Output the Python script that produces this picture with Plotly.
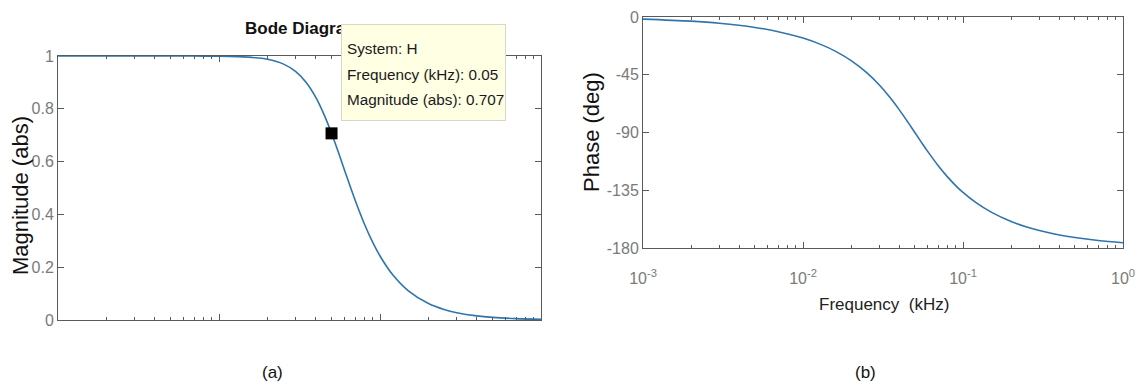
import plotly.graph_objects as go

# ---- data (2nd-order low-pass, corner 0.05 kHz) ----
freq_khz = [0.001, 0.002, 0.003, 0.005, 0.007, 0.01, 0.013, 0.016, 0.02, 0.025,
            0.03, 0.035, 0.04, 0.045, 0.05, 0.055, 0.06, 0.07, 0.08, 0.09,
            0.1, 0.12, 0.15, 0.2, 0.25, 0.3, 0.4, 0.5, 0.7, 1.0]
magnitude_abs = [1.0, 1.0, 1.0, 0.99995, 0.9998, 0.9992, 0.99773, 0.9948, 0.98744, 0.97014,
                 0.94089, 0.89799, 0.84227, 0.77706, 0.70711, 0.63705, 0.5704, 0.45447, 0.36385, 0.29491,
                 0.24254, 0.17105, 0.11043, 0.06238, 0.03997, 0.02777, 0.01562, 0.01, 0.0051, 0.0025]
phase_deg = [-1.62, -3.24, -4.87, -8.13, -11.42, -16.42, -21.52, -26.76, -33.96, -43.31,
             -52.97, -62.74, -72.35, -81.51, -90.0, -97.69, -104.53, -115.87, -124.59, -131.35,
             -136.69, -144.51, -152.06, -159.34, -163.58, -166.37, -169.82, -171.87, -174.2, -175.95]

datatip_freq = [0.05]
datatip_mag = [0.707]

mag_tick_vals = [0, 0.2, 0.4, 0.6, 0.8, 1]
mag_tick_text = ["0", "0.2", "0.4", "0.6", "0.8", "1"]
phase_tick_vals = [-180, -135, -90, -45, 0]
phase_tick_text = ["-180", "-135", "-90", "-45", "0"]
freq_tick_vals = [0.001, 0.01, 0.1, 1]
freq_tick_text = ["10<sup>-3</sup>", "10<sup>-2</sup>", "10<sup>-1</sup>", "10<sup>0</sup>"]
freq_minor_vals = [0.002, 0.003, 0.004, 0.005, 0.006, 0.007, 0.008, 0.009,
                   0.02, 0.03, 0.04, 0.05, 0.06, 0.07, 0.08, 0.09,
                   0.2, 0.3, 0.4, 0.5, 0.6, 0.7, 0.8, 0.9]

W, H = 1145, 391
def px_x(x):
    return x / W
def px_y(y):
    return 1 - y / H

LINE_COLOR = "#2e75ad"
AXIS_COLOR = "#5a5a5a"
FONT = "Liberation Sans, Arial, sans-serif"
TICK_FONT = dict(family=FONT, size=16, color="#7a7a7a")

fig = go.Figure()
fig.add_trace(go.Scatter(x=freq_khz, y=magnitude_abs, mode="lines",
                         line=dict(color=LINE_COLOR, width=1.6, shape="spline"),
                         xaxis="x", yaxis="y", showlegend=False))
fig.add_trace(go.Scatter(x=datatip_freq, y=datatip_mag, mode="markers",
                         marker=dict(symbol="square", size=12, color="black"),
                         xaxis="x", yaxis="y", showlegend=False, cliponaxis=False))
fig.add_trace(go.Scatter(x=freq_khz, y=phase_deg, mode="lines",
                         line=dict(color=LINE_COLOR, width=1.6, shape="spline"),
                         xaxis="x2", yaxis="y2", showlegend=False))

common_x = dict(type="log", range=[-3, 0], showgrid=False, zeroline=False, automargin=False,
                showline=True, linecolor=AXIS_COLOR, linewidth=1, mirror="ticks",
                ticks="inside", ticklen=6, tickcolor=AXIS_COLOR,
                tickmode="array", tickvals=freq_tick_vals, ticktext=freq_tick_text,
                minor=dict(ticks="inside", ticklen=3, tickcolor=AXIS_COLOR, showgrid=False,
                           tickmode="array", tickvals=freq_minor_vals),
                tickfont=TICK_FONT)
common_y = dict(showgrid=False, zeroline=False, showline=True, linecolor=AXIS_COLOR, automargin=False,
                linewidth=1, mirror="ticks", ticks="inside", ticklen=6, tickcolor=AXIS_COLOR,
                tickfont=TICK_FONT, tickmode="array")

fig.update_layout(
    width=W, height=H, showlegend=False,
    margin=dict(l=0, r=0, t=0, b=0, pad=0, autoexpand=False),
    paper_bgcolor="white", plot_bgcolor="white",
    xaxis=dict(**common_x, domain=[px_x(58), px_x(541)], anchor="y", showticklabels=False),
    yaxis=dict(**common_y, domain=[px_y(320), px_y(56)], anchor="x", range=[0, 1],
               tickvals=mag_tick_vals, ticktext=mag_tick_text),
    xaxis2=dict(**common_x, domain=[px_x(643), px_x(1123)], anchor="y2", ticklabelstandoff=16),
    yaxis2=dict(**common_y, domain=[px_y(248), px_y(17)], anchor="x2", range=[-180, 0],
                tickvals=phase_tick_vals, ticktext=phase_tick_text),
)

anns = []
# title (partly hidden behind the data tip)
anns.append(dict(text="<b>Bode Diagram</b>", x=px_x(243), y=px_y(28), xref="paper", yref="paper",
                 showarrow=False, xanchor="left", yanchor="middle",
                 font=dict(family=FONT, size=17, color="#111")))
# data tip box
anns.append(dict(text=" ", x=px_x(341), y=px_y(24), xref="paper", yref="paper",
                 showarrow=False, xanchor="left", yanchor="top", width=163, height=95,
                 bgcolor="#ffffe4", bordercolor="#d8d8c8", borderwidth=1, borderpad=0))
tip_lines = ["System: H", "Frequency (kHz): 0.05", "Magnitude (abs): 0.707"]
for t, yy in zip(tip_lines, [48, 75, 100]):
    anns.append(dict(text=t, x=px_x(345), y=px_y(yy), xref="paper", yref="paper",
                     showarrow=False, xanchor="left", yanchor="middle",
                     font=dict(family=FONT, size=15.3, color="#1a1a1a")))
# axis titles
anns.append(dict(text="Magnitude (abs)", x=px_x(20), y=px_y(196), xref="paper", yref="paper",
                 showarrow=False, textangle=-90, xanchor="center", yanchor="middle",
                 font=dict(family=FONT, size=22, color="#111")))
anns.append(dict(text="Phase (deg)", x=px_x(591), y=px_y(132), xref="paper", yref="paper",
                 showarrow=False, textangle=-90, xanchor="center", yanchor="middle",
                 font=dict(family=FONT, size=22, color="#111")))
anns.append(dict(text="Frequency  (kHz)", x=px_x(884), y=px_y(304), xref="paper", yref="paper",
                 showarrow=False, xanchor="center", yanchor="middle",
                 font=dict(family=FONT, size=17, color="#222")))
# panel labels
anns.append(dict(text="(a)", x=px_x(272), y=px_y(372), xref="paper", yref="paper",
                 showarrow=False, xanchor="center", yanchor="middle",
                 font=dict(family=FONT, size=17, color="#111")))
anns.append(dict(text="(b)", x=px_x(865), y=px_y(372), xref="paper", yref="paper",
                 showarrow=False, xanchor="center", yanchor="middle",
                 font=dict(family=FONT, size=17, color="#111")))
fig.update_layout(annotations=anns)

fig.write_html("out.html", config={"displayModeBar": False},
               post_script="document.body.style.margin='0';document.body.style.overflow='hidden';")
